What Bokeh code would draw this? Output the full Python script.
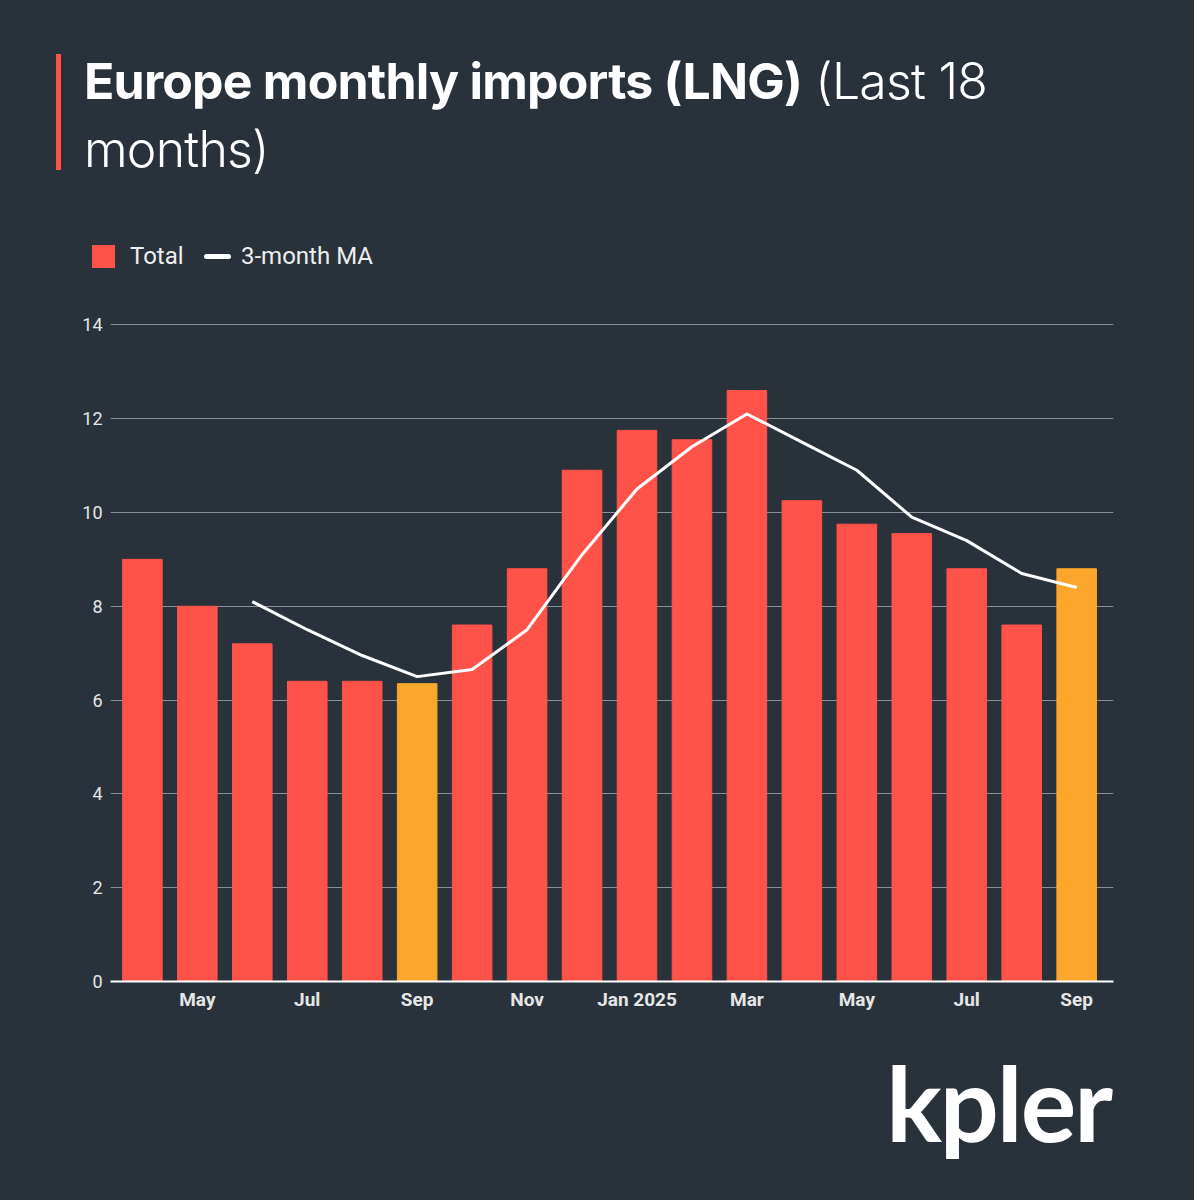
from bokeh.plotting import figure
from bokeh.models import ColumnDataSource, Range1d, FixedTicker, Div
from bokeh.layouts import column
from bokeh.embed import file_html
from bokeh.resources import INLINE

months = ["Apr", "May", "Jun", "Jul", "Aug", "Sep", "Oct", "Nov", "Dec",
          "Jan", "Feb", "Mar", "Apr", "May", "Jun", "Jul", "Aug", "Sep"]
total = [9.0, 8.0, 7.2, 6.4, 6.4, 6.35, 7.6, 8.8, 10.9,
         11.75, 11.55, 12.6, 10.25, 9.75, 9.55, 8.8, 7.6, 8.8]
ma3 = [None, None, 8.1, 7.5, 6.95, 6.5, 6.65, 7.5, 9.1,
       10.5, 11.4, 12.1, 11.5, 10.9, 9.9, 9.4, 8.7, 8.4]
highlight = [5, 17]
tick_idx = [1, 3, 5, 7, 9, 11, 13, 15, 17]
tick_lbl = ["May", "Jul", "Sep", "Nov", "Jan 2025", "Mar", "May", "Jul", "Sep"]

BG = "#29323b"
RED = "#ff5249"
ORANGE = "#fca72b"

W = 1184
HEAD_H, CHART_H, FOOT_H = 290, 750, 144

head_html = f"""
<div style="position:relative;width:{W}px;height:{HEAD_H}px;color:white;">
  <div style="position:absolute;left:51px;top:49px;width:5px;height:116px;background:{RED};"></div>
  <div style="position:absolute;left:79px;top:42px;font-family:Inter;font-size:50px;line-height:68px;letter-spacing:-0.8px;">
    <b style="font-weight:700;">Europe monthly imports (LNG)</b> <span style="font-weight:300;">(Last 18<br>months)</span></div>
  <div style="position:absolute;left:87px;top:240px;width:23px;height:23px;background:{RED};"></div>
  <div style="position:absolute;left:125px;top:235px;font-family:Roboto;font-size:24px;line-height:32px;color:#eeeeee;">Total</div>
  <div style="position:absolute;left:199px;top:249px;width:27px;height:5px;border-radius:3px;background:white;"></div>
  <div style="position:absolute;left:236px;top:235px;font-family:Roboto;font-size:24px;line-height:32px;color:#eeeeee;">3-month MA</div>
</div>
"""
head = Div(text=head_html, width=W, height=HEAD_H, styles={"background-color": BG})

# chart
idx = list(range(len(total)))
colors = [ORANGE if i in highlight else RED for i in idx]
src = ColumnDataSource(dict(x=idx, top=total, color=colors))

p = figure(width=W, height=CHART_H, output_backend="svg", toolbar_location=None,
           x_range=Range1d(-0.58, 17.67), y_range=Range1d(0, 14.05),
           min_border_left=110, min_border_right=71,
           min_border_top=22, min_border_bottom=69)
p.background_fill_color = BG
p.border_fill_color = BG
p.outline_line_color = None

p.vbar(x="x", top="top", width=0.72, color="color", source=src)
mx = [i for i in idx if ma3[i] is not None]
my = [ma3[i] for i in mx]
p.line(mx, my, line_color="white", line_width=3, line_join="round")

p.xgrid.grid_line_color = None
p.ygrid.grid_line_color = "#8a9098"
p.yaxis.ticker = FixedTicker(ticks=[0, 2, 4, 6, 8, 10, 12, 14])
p.yaxis.axis_line_color = None
p.yaxis.major_tick_line_color = None
p.yaxis.minor_tick_line_color = None
p.yaxis.major_tick_out = 0
p.yaxis.major_label_text_color = "#e6e6e6"
p.yaxis.major_label_text_font = "Roboto"
p.yaxis.major_label_text_font_size = "18px"
p.yaxis.major_label_standoff = 8

p.xaxis.ticker = FixedTicker(ticks=tick_idx)
p.xaxis.major_label_overrides = {i: t for i, t in zip(tick_idx, tick_lbl)}
p.xaxis.axis_line_color = "white"
p.xaxis.axis_line_width = 2
p.xaxis.major_tick_line_color = None
p.xaxis.minor_tick_line_color = None
p.xaxis.major_tick_out = 0
p.xaxis.major_label_text_color = "#e6e6e6"
p.xaxis.major_label_text_font = "Roboto"
p.xaxis.major_label_text_font_style = "bold"
p.xaxis.major_label_text_font_size = "19px"
p.xaxis.major_label_standoff = 6

foot_html = f"""
<div style="position:relative;width:{W}px;height:{FOOT_H}px;">
  <div style="position:absolute;right:78px;top:-18px;font-family:Lato;font-weight:bold;
       font-size:104px;line-height:130px;color:white;letter-spacing:-2px;">kpler</div>
</div>
"""
foot = Div(text=foot_html, width=W, height=FOOT_H, styles={"background-color": BG})

layout = column(head, p, foot, spacing=0, styles={"background-color": BG})
open("out.html", "w").write(file_html(layout, INLINE))
